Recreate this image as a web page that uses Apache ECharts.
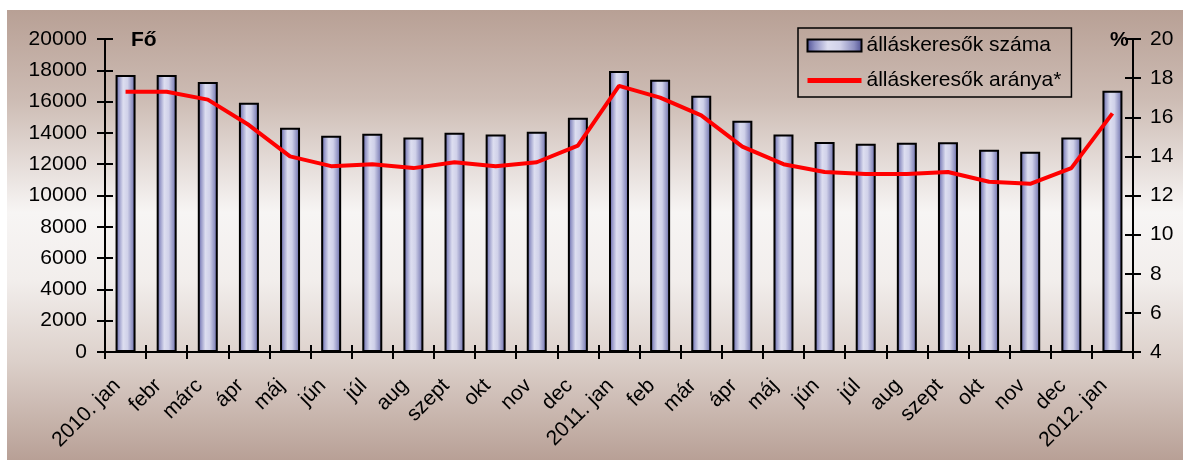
<!DOCTYPE html>
<html>
<head>
<meta charset="utf-8">
<script src="https://cdn.jsdelivr.net/npm/echarts@6/dist/echarts.min.js"></script>
<style>
html,body{margin:0;padding:0;background:#ffffff;}
#c{width:1183px;height:460px;}
</style>
</head>
<body>
<div id="c"></div>
<script>
var categories = ["2010. jan","febr","márc","ápr","máj","jún","júl","aug","szept","okt","nov","dec","2011. jan","feb","már","ápr","máj","jún","júl","aug","szept","okt","nov","dec","2012. jan"];
var jobseekers = [17700,17700,17260,15920,14330,13820,13950,13700,14010,13890,14080,14970,17960,17390,16370,14780,13900,13420,13300,13370,13400,12930,12800,13710,16700];
var jobseekerRate = [17.3,17.3,16.9,15.6,14.0,13.5,13.6,13.4,13.7,13.5,13.7,14.55,17.6,17.0,16.1,14.5,13.6,13.2,13.1,13.1,13.2,12.7,12.6,13.4,16.2];
var leftTicks = {min:0, max:20000, interval:2000};
var rightTicks = {min:4, max:20, interval:2};

var FONT = '"Liberation Sans", Arial, sans-serif';
var FS = 21;
var chart = echarts.init(document.getElementById('c'));

var barGradient = new echarts.graphic.LinearGradient(0,0,1,0,[
  {offset:0, color:'#4c4e93'},
  {offset:0.15, color:'#9092c4'},
  {offset:0.38, color:'#dddef0'},
  {offset:0.6, color:'#d0d1e9'},
  {offset:0.85, color:'#8d8fc0'},
  {offset:1, color:'#4e5092'}
]);

var axisLineStyle = {show:true, lineStyle:{color:'#000', width:2}};

chart.setOption({
  animation:false,
  graphic:[{
    type:'rect', z:-100, silent:true,
    shape:{x:7,y:10,width:1176,height:450},
    style:{fill:new echarts.graphic.LinearGradient(0,0,0,1,[
      {offset:0, color:'#b8a095'},
      {offset:0.2, color:'#cdbcb4'},
      {offset:0.45, color:'#f7f5f4'},
      {offset:0.6, color:'#f2eeec'},
      {offset:0.78, color:'#dcd0ca'},
      {offset:1, color:'#b8a096'}
    ])}
  }],
  title:[
    {text:'Fő', left:131, top:30, padding:0, textStyle:{fontFamily:FONT, fontSize:FS, fontWeight:'bold', color:'#000'}},
    {text:'%', left:1110, top:30, padding:0, textStyle:{fontFamily:FONT, fontSize:FS, fontWeight:'bold', color:'#000'}}
  ],
  legend:{
    orient:'vertical', left:798, top:28,
    padding:[7,10,6,7],
    itemWidth:54, itemHeight:12, itemGap:14,
    borderColor:'#000', borderWidth:1.5,
    textStyle:{fontFamily:FONT, fontSize:FS, color:'#000'},
    data:[
      {name:'álláskeresők száma', icon:'rect'},
      {name:'álláskeresők aránya*', itemStyle:{opacity:0}, lineStyle:{width:5, color:'#ff0000'}}
    ]
  },
  grid:{left:105, right:50, top:39, bottom:108, containLabel:false},
  xAxis:[{
    type:'category', data:categories, boundaryGap:true,
    axisLine:axisLineStyle,
    axisTick:{show:true, length:7, inside:false, alignWithLabel:false, interval:0, lineStyle:{color:'#000', width:2}},
    axisLabel:{interval:0, rotate:45, margin:22, padding:[0,12,0,0], fontFamily:FONT, fontSize:FS, color:'#000'},
    splitLine:{show:false}
  },{
    type:'category', data:categories, boundaryGap:true, position:'bottom',
    axisLine:{show:false},
    axisTick:{show:true, length:7, inside:true, interval:0, lineStyle:{color:'#000', width:2}},
    axisLabel:{show:false}, splitLine:{show:false}
  }],
  yAxis:[{
    type:'value', position:'left', min:leftTicks.min, max:leftTicks.max, interval:leftTicks.interval,
    axisLine:axisLineStyle,
    axisTick:{show:true, length:8, lineStyle:{color:'#000', width:2}},
    axisLabel:{margin:18, fontFamily:FONT, fontSize:FS, color:'#000', formatter:function(v){return String(v);}},
    splitLine:{show:false}
  },{
    type:'value', position:'right', min:rightTicks.min, max:rightTicks.max, interval:rightTicks.interval,
    axisLine:axisLineStyle,
    axisTick:{show:true, length:8, lineStyle:{color:'#000', width:2}},
    axisLabel:{margin:17, fontFamily:FONT, fontSize:FS, color:'#000'},
    splitLine:{show:false}
  },{
    type:'value', position:'left', min:leftTicks.min, max:leftTicks.max, interval:leftTicks.interval,
    axisLine:{show:false},
    axisTick:{show:true, inside:true, length:8, lineStyle:{color:'#000', width:2}},
    axisLabel:{show:false}, splitLine:{show:false}
  },{
    type:'value', position:'right', min:rightTicks.min, max:rightTicks.max, interval:rightTicks.interval,
    axisLine:{show:false},
    axisTick:{show:true, inside:true, length:8, lineStyle:{color:'#000', width:2}},
    axisLabel:{show:false}, splitLine:{show:false}
  }],
  series:[{
    name:'álláskeresők száma', type:'bar', data:jobseekers, xAxisIndex:0, yAxisIndex:0,
    barWidth:20,
    itemStyle:{color:barGradient, borderColor:'#000', borderWidth:2}
  },{
    name:'álláskeresők aránya*', type:'line', data:jobseekerRate, xAxisIndex:0, yAxisIndex:1,
    symbol:'none', z:5,
    lineStyle:{color:'#ff0000', width:4},
    itemStyle:{color:'#ff0000'}
  }]
});
</script>
</body>
</html>
